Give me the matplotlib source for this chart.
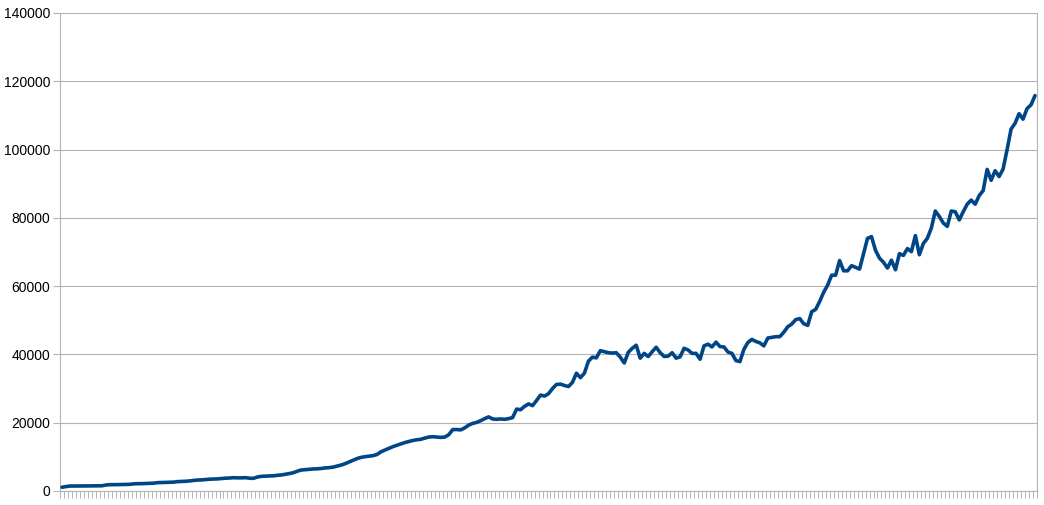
import numpy as np
import matplotlib
matplotlib.use("Agg")
import matplotlib.pyplot as plt

# values, one per category
values = [
    1100, 1300, 1450, 1450, 1450, 1480, 1480, 1500, 1500, 1520,
    1530, 1750, 1850, 1850, 1870, 1900, 1920, 1950, 2100, 2150,
    2150, 2200, 2250, 2300, 2450, 2500, 2520, 2550, 2600, 2750,
    2800, 2850, 2950, 3100, 3200, 3250, 3350, 3450, 3500, 3550,
    3650, 3750, 3800, 3900, 3850, 3850, 3900, 3750, 3700, 4100,
    4300, 4350, 4400, 4450, 4600, 4700, 4900, 5100, 5350, 5800,
    6150, 6250, 6350, 6450, 6500, 6600, 6750, 6850, 7000, 7300,
    7600, 8000, 8500, 9000, 9500, 9850, 10050, 10200, 10350, 10700,
    11500, 12000, 12500, 13000, 13400, 13800, 14200, 14500, 14800, 15000,
    15150, 15500, 15800, 15900, 15800, 15700, 15800, 16500, 18000, 18000,
    17900, 18500, 19300, 19800, 20100, 20600, 21200, 21700, 21100, 21000,
    21100, 21000, 21200, 21500, 24000, 23800, 24800, 25500, 25000, 26500,
    28100, 27800, 28500, 30000, 31200, 31300, 30900, 30600, 31800, 34500,
    33200, 34500, 38000, 39200, 39000, 41100, 40800, 40500, 40400, 40500,
    39200, 37500, 40600, 41800, 42700, 38900, 40300, 39400, 40800, 42100,
    40500, 39400, 39500, 40500, 38900, 39300, 41800, 41300, 40300, 40300,
    38600, 42500, 43000, 42200, 43600, 42300, 42200, 40700, 40300, 38200,
    37900, 41500, 43500, 44400, 43800, 43400, 42500, 44800, 45000, 45200,
    45200, 46500, 48100, 48900, 50200, 50500, 49000, 48500, 52500, 53200,
    55500, 58200, 60300, 63200, 63200, 67500, 64500, 64500, 66000, 65500,
    65000, 69500, 74000, 74500, 70500, 68200, 67000, 65300, 67600, 64800,
    69500, 69000, 71000, 70100, 74800, 69200, 72500, 74000, 77000, 82000,
    80400, 78500, 77500, 82000, 81800, 79400, 81800, 84000, 85200, 84000,
    86500, 88000, 94200, 91000, 93800, 92100, 94300, 100000, 106000, 107700,
    110500, 108900, 112000, 113100, 115800,
]
y_ticks = [0, 20000, 40000, 60000, 80000, 100000, 120000, 140000]

grey = "#b3b3b3"
line_blue = "#004586"

fig = plt.figure(figsize=(10.44, 5.05), dpi=100)
ax = fig.add_axes([60 / 1044, 14 / 505, 977 / 1044, 478 / 505])

x = np.arange(len(values))
ax.plot(x, values, color=line_blue, linewidth=2.6, solid_joinstyle="round",
        solid_capstyle="round", zorder=3)

ax.set_xlim(-0.5, len(values) - 0.5)
ax.set_ylim(0, 140000)
ax.set_yticks(y_ticks)
ax.set_yticklabels([str(t) for t in y_ticks])
ax.set_xticks(np.arange(len(values) + 1) - 0.5)
ax.set_xticklabels([])

ax.grid(axis="y", color=grey, linewidth=0.8)
ax.set_axisbelow(True)

for side in ["left", "bottom", "right"]:
    ax.spines[side].set_color(grey)
    ax.spines[side].set_linewidth(0.8)
ax.spines["top"].set_visible(False)

ax.tick_params(axis="y", length=5, width=0.8, color=grey, pad=2,
               labelsize=10, labelcolor="black")
ax.tick_params(axis="x", length=5, width=0.7, color=grey, direction="out")

for lbl in ax.get_yticklabels():
    lbl.set_family(["Liberation Sans", "DejaVu Sans"])

fig.savefig("out.png", dpi=100)
